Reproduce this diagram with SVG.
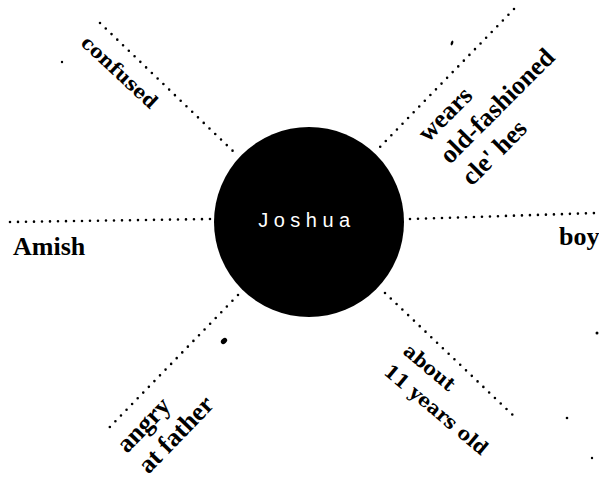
<svg xmlns="http://www.w3.org/2000/svg" width="599" height="480" viewBox="0 0 599 480">
<style>
.dot{fill:none;stroke:#000;stroke-width:2.6;stroke-linecap:round;stroke-dasharray:0 8}
.tb{font-family:"Liberation Serif","Times New Roman",serif;font-weight:bold;font-size:26px;fill:#000}
.ts{font-family:"DejaVu Serif",serif;font-weight:bold;font-size:19px;fill:#000}
.sp{fill:#000}
</style>
<rect width="599" height="480" fill="#fff"/>
<g id="connectors">
<line class="dot" x1="100" y1="23" x2="235" y2="153"/>
<line class="dot" x1="514" y1="9" x2="378" y2="149"/>
<line class="dot" x1="10" y1="222" x2="212" y2="219"/>
<line class="dot" x1="410" y1="219" x2="597" y2="213"/>
<line class="dot" x1="238" y1="295" x2="105" y2="432"/>
<line class="dot" x1="385" y1="293" x2="518" y2="420"/>
</g>
<g id="joshua">
<circle cx="309" cy="222" r="95" fill="#000"/>
<text x="307" y="227" text-anchor="middle" font-family="Liberation Sans, Arial, sans-serif" font-size="20" letter-spacing="5.5" fill="#fff">Joshua</text>
</g>
<g id="confused">
<text class="ts" transform="translate(115,77) rotate(43)" text-anchor="middle">confused</text>
</g>
<g id="wears">
<g transform="translate(428,143) rotate(-45)">
<text class="tb" x="0" y="0">wears</text>
<text class="tb" x="0" y="31">old-fashioned</text>
<text class="tb" x="0" y="62">cle' hes</text>
</g>
</g>
<g id="amish">
<text class="tb" x="13" y="255">Amish</text>
</g>
<g id="boy">
<text class="tb" x="559" y="245">boy</text>
</g>
<g id="angry">
<g transform="translate(127,454) rotate(-46)">
<text class="tb" x="0" y="0">angry</text>
<text class="tb" x="0" y="30">at father</text>
</g>
</g>
<g id="about">
<g transform="translate(402,353) rotate(40)">
<text class="ts" x="0" y="0">about</text>
<text class="ts" x="-2" y="28">11 years old</text>
</g>
</g>
<g id="specks">
<circle class="sp" cx="62" cy="62" r="1.2"/>
<ellipse class="sp" cx="452" cy="43" rx="1.2" ry="2.5" transform="rotate(20 452 43)"/>
<ellipse class="sp" cx="224" cy="341" rx="3.5" ry="2.5" transform="rotate(-40 224 341)"/>
<circle class="sp" cx="597" cy="333" r="1.5"/>
<circle class="sp" cx="567" cy="418" r="1.3"/>
<circle class="sp" cx="592" cy="458" r="1.2"/>
</g>
</svg>
